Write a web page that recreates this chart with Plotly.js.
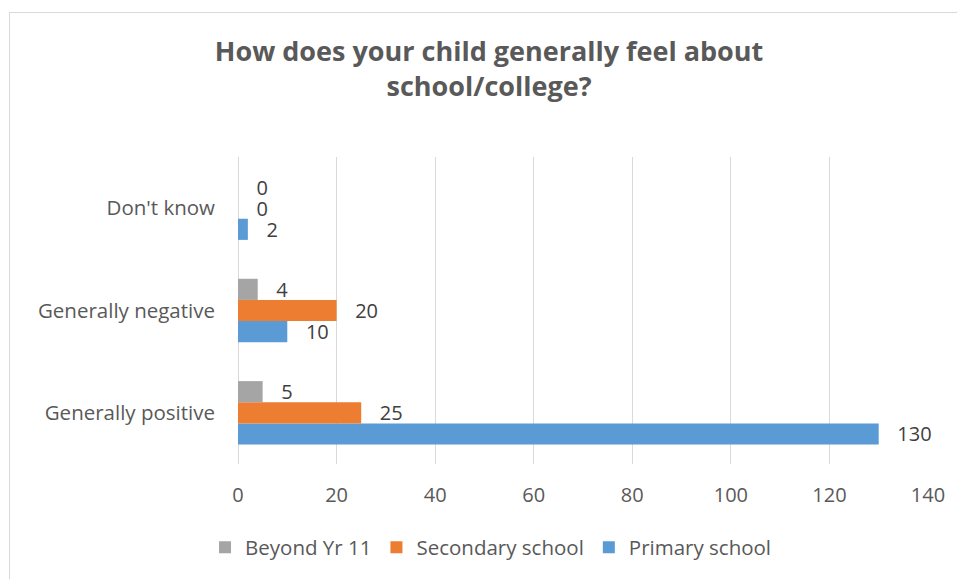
<!DOCTYPE html>
<html>
<head>
<meta charset="utf-8">
<script src="https://cdn.plot.ly/plotly-3.0.1.min.js"></script>
<style>
html,body{margin:0;padding:0;width:957px;height:579px;overflow:hidden;background:#fff;}
#frame{position:absolute;left:9px;top:12px;width:2000px;height:2000px;border:1px solid #d9d9d9;box-sizing:border-box;}
#chart{position:absolute;left:0;top:0;width:957px;height:579px;}
</style>
</head>
<body>
<div id="frame"></div>
<div id="chart"></div>
<script>
const categories = ["Generally positive", "Generally negative", "Don't know"];
const primary = [130, 10, 2];
const secondary = [25, 20, 0];
const beyond = [5, 4, 0];
const seriesNames = ["Primary school", "Secondary school", "Beyond Yr 11"];
const xTicks = [0, 20, 40, 60, 80, 100, 120, 140];

const colors = ["#5b9bd5", "#ed7d31", "#a5a5a5"];
const FONT = "Open Sans, Arial, sans-serif";
const pad = "\u00a0\u00a0\u00a0";

function mk(vals, name, color) {
  return {
    type: "bar", orientation: "h",
    x: vals, y: categories, name: name,
    marker: {color: color},
    text: vals.map(v => pad + v),
    textposition: "outside",
    constraintext: "none",
    textfont: {family: FONT, size: 20, color: "#404040"},
    cliponaxis: false,
    hoverinfo: "x+name"
  };
}

const data = [
  mk(primary, seriesNames[0], colors[0]),
  mk(secondary, seriesNames[1], colors[1]),
  mk(beyond, seriesNames[2], colors[2])
];

const layout = {
  width: 957, height: 579,
  paper_bgcolor: "rgba(0,0,0,0)",
  plot_bgcolor: "rgba(0,0,0,0)",
  margin: {l: 238, r: 29, t: 157, b: 113},
  barmode: "group",
  bargap: 0.38,
  bargroupgap: 0,
  title: {
    text: "How does your child generally feel about<br>school/college?",
    font: {family: FONT, size: 27, color: "#595959", weight: "bold"},
    x: 0.511, xanchor: "center", xref: "container",
    y: 0.895, yanchor: "top", yref: "container"
  },
  xaxis: {
    range: [0, 140],
    tickvals: xTicks,
    ticktext: xTicks.map(String),
    showgrid: true, gridcolor: "#d9d9d9", gridwidth: 1,
    zeroline: true, zerolinecolor: "#d9d9d9", zerolinewidth: 1,
    showline: false,
    ticks: "",
    ticklabelstandoff: 17,
    tickfont: {family: FONT, size: 20, color: "#595959"},
    fixedrange: true
  },
  yaxis: {
    type: "category",
    showgrid: false, zeroline: false, showline: false,
    ticks: "",
    ticklabelstandoff: 22,
    tickfont: {family: FONT, size: 20.5, color: "#595959"},
    fixedrange: true
  },
  showlegend: true,
  legend: {
    orientation: "h",
    traceorder: "reversed",
    x: 0.3667, xanchor: "center",
    y: -0.272, yanchor: "middle",
    font: {family: FONT, size: 20.5, color: "#595959"},
    itemwidth: 30
  }
};

Plotly.newPlot("chart", data, layout, {displayModeBar: false, staticPlot: true});
</script>
</body>
</html>
